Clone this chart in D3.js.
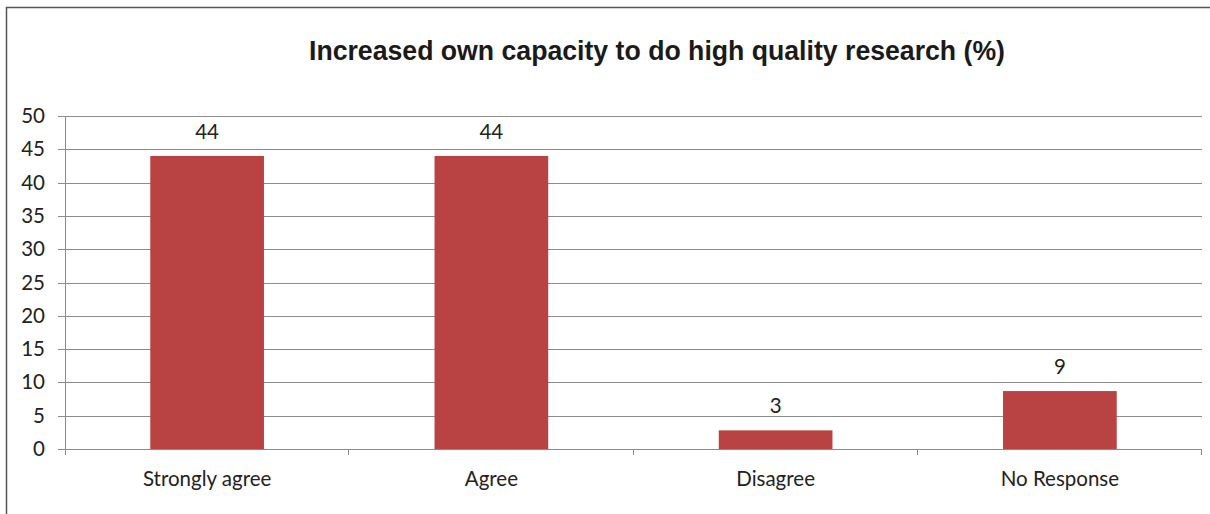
<!DOCTYPE html>
<html lang="en">
<head>
    <meta charset="UTF-8">
    <title>Increased own capacity to do high quality research (%)</title>
    <script src="https://d3js.org/d3.v7.min.js"></script>
    <style>
        body { margin: 0; background: #fff; }
        .title { font-family: "Liberation Sans", Arial, sans-serif; font-weight: bold; font-size: 27px; fill: #1a1a1a; }
        .tick text, .label { font-family: Lato, "Open Sans", sans-serif; font-size: 20.5px; fill: #222; }
        .grid line { stroke: #8c8c8c; stroke-width: 1; }
        .bar { fill: #b94343; }
    </style>
</head>
<body>
    <div id="chart"></div>
    <script>
        // data
        const categories = ["Strongly agree", "Agree", "Disagree", "No Response"];
        const values = [44, 44, 2.8, 8.7];
        const labels = ["44", "44", "3", "9"];
        const yTicks = [0, 5, 10, 15, 20, 25, 30, 35, 40, 45, 50];

        const totalWidth = 1210, totalHeight = 514;
        const margin = { top: 116, right: 8, bottom: 65, left: 65 },
            width = totalWidth - margin.left - margin.right,
            height = totalHeight - margin.top - margin.bottom;

        const svg = d3.select("#chart").append("svg")
            .attr("width", totalWidth)
            .attr("height", totalHeight);

        // outer frame (left and top edges visible)
        svg.append("path")
            .attr("d", `M6.5,${totalHeight} V7.5 H${totalWidth}`)
            .attr("fill", "none")
            .attr("stroke", "#555")
            .attr("stroke-width", 1.5);

        svg.append("text")
            .attr("class", "title")
            .attr("x", 657)
            .attr("y", 60)
            .attr("text-anchor", "middle")
            .attr("textLength", 696)
            .attr("lengthAdjust", "spacingAndGlyphs")
            .text("Increased own capacity to do high quality research (%)");

        const g = svg.append("g").attr("transform", `translate(${margin.left},${margin.top})`);

        const x = d3.scaleBand().domain(categories).range([0, width]).paddingInner(0.6).paddingOuter(0.3);
        const xTicks = d3.scaleBand().domain(categories).range([0, width]);
        const y = d3.scaleLinear().domain([0, 50]).range([height, 0]);

        // gridlines
        g.append("g")
            .attr("class", "grid")
            .selectAll("line")
            .data(yTicks)
            .join("line")
            .attr("x1", -7)
            .attr("x2", width)
            .attr("y1", d => Math.round(y(d)) + 0.5)
            .attr("y2", d => Math.round(y(d)) + 0.5);

        // y axis
        const yAxis = g.append("g")
            .call(d3.axisLeft(y).tickValues(yTicks).tickSize(0).tickPadding(20));
        yAxis.select(".domain").attr("stroke", "#8c8c8c").attr("d", `M0.5,0V${height + 6}`);

        // category separators on x axis
        g.append("g")
            .selectAll("line")
            .data(categories.slice(1).map(c => xTicks(c)).concat([width]))
            .join("line")
            .attr("x1", d => Math.round(d) - 0.5)
            .attr("x2", d => Math.round(d) - 0.5)
            .attr("y1", height)
            .attr("y2", height + 6)
            .attr("stroke", "#8c8c8c");

        // bars
        g.selectAll(".bar")
            .data(values)
            .join("rect")
            .attr("class", "bar")
            .attr("x", (d, i) => x(categories[i]))
            .attr("width", x.bandwidth())
            .attr("y", d => y(d))
            .attr("height", d => height - y(d));

        // data labels
        g.selectAll(".label.val")
            .data(values)
            .join("text")
            .attr("class", "label val")
            .attr("text-anchor", "middle")
            .attr("x", (d, i) => x(categories[i]) + x.bandwidth() / 2)
            .attr("y", d => y(d) - 17)
            .text((d, i) => labels[i]);

        // category labels
        g.selectAll(".label.cat")
            .data(categories)
            .join("text")
            .attr("class", "label cat")
            .attr("text-anchor", "middle")
            .attr("x", d => xTicks(d) + xTicks.bandwidth() / 2)
            .attr("y", height + 37)
            .text(d => d);
    </script>
</body>
</html>
